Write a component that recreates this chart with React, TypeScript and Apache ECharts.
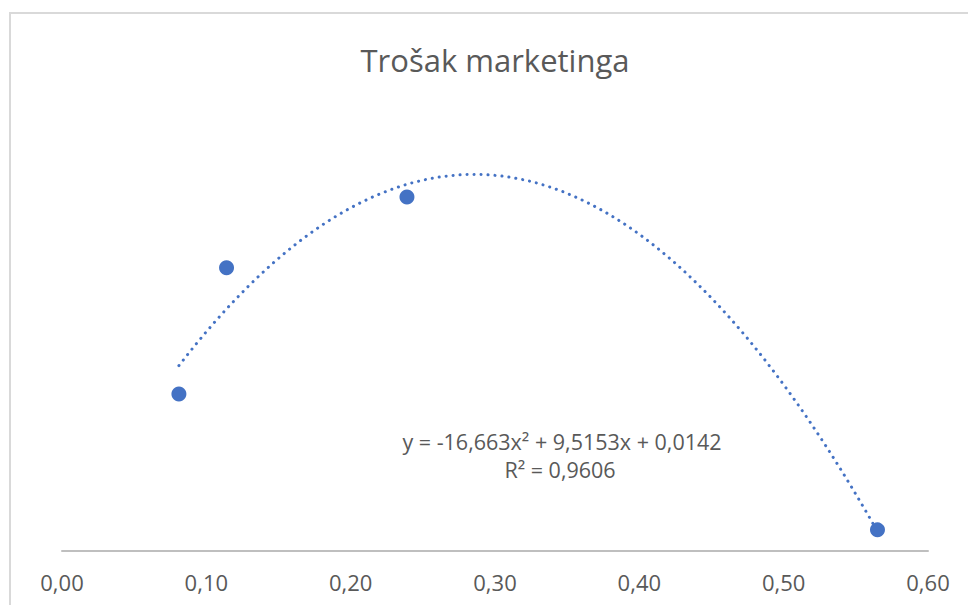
import React, { useEffect, useRef } from "react";
import * as echarts from "echarts";

// Data points
const xValues = [0.081, 0.114, 0.239, 0.565];
const yValues = [0.572, 1.032, 1.29, 0.077];

// Polynomial trendline (order 2) as printed on the chart: y = a x^2 + b x + c
const TREND_A = -16.663;
const TREND_B = 9.5153;
const TREND_C = 0.0142;
const TREND_STEPS = 80;

const xTicks = [0, 0.1, 0.2, 0.3, 0.4, 0.5, 0.6];

const TITLE = "Trošak marketinga";
const EQUATION = "y = -16,663x² + 9,5153x + 0,0142";
const R_SQUARED = "R² = 0,9606";

export default function App() {
  const ref = useRef<HTMLDivElement>(null);

  useEffect(() => {
    document.body.style.margin = "0";
    if (!ref.current) return;
    const chart = echarts.init(ref.current, undefined, { renderer: "svg" });

    const x0 = Math.min(...xValues);
    const x1 = Math.max(...xValues);
    const trend: number[][] = [];
    for (let i = 0; i <= TREND_STEPS; i++) {
      const x = x0 + ((x1 - x0) * i) / TREND_STEPS;
      trend.push([x, TREND_A * x * x + TREND_B * x + TREND_C]);
    }
    const points = xValues.map((x, i) => [x, yValues[i]]);

    const textColor = "#595959";
    const font = "'Open Sans', sans-serif";

    chart.setOption({
      animation: false,
      backgroundColor: "#ffffff",
      grid: { left: 62, right: 40, top: 112, bottom: 54 },
      xAxis: {
        type: "value",
        min: xTicks[0],
        max: xTicks[xTicks.length - 1],
        interval: 0.1,
        axisLine: { show: true, lineStyle: { color: "#bfbfbf", width: 2 } },
        axisTick: { show: false },
        splitLine: { show: false },
        axisLabel: {
          color: textColor,
          fontSize: 22,
          fontFamily: font,
          margin: 20,
          formatter: (v: number) => v.toFixed(2).replace(".", ","),
        },
      },
      yAxis: {
        type: "value",
        min: 0,
        max: 1.6,
        show: false,
        splitLine: { show: false },
      },
      graphic: [
        {
          type: "rect",
          shape: { x: 10, y: 13, width: 1200, height: 900 },
          style: { fill: "none", stroke: "#d9d9d9", lineWidth: 2 },
          silent: true,
        },
        {
          type: "text",
          x: 495,
          y: 60,
          style: {
            text: TITLE,
            fill: textColor,
            fontSize: 31,
            fontFamily: font,
            textAlign: "center",
            textVerticalAlign: "middle",
          },
        },
        {
          type: "text",
          x: 562,
          y: 441,
          style: {
            text: EQUATION,
            fill: textColor,
            fontSize: 21.5,
            fontFamily: font,
            textAlign: "center",
            textVerticalAlign: "middle",
          },
        },
        {
          type: "text",
          x: 560,
          y: 469,
          style: {
            text: R_SQUARED,
            fill: textColor,
            fontSize: 21.5,
            fontFamily: font,
            textAlign: "center",
            textVerticalAlign: "middle",
          },
        },
      ],
      series: [
        {
          type: "line",
          data: trend,
          showSymbol: false,
          smooth: false,
          z: 1,
          lineStyle: {
            color: "#4472c4",
            width: 3,
            type: [0.1, 6.9],
            cap: "round",
            opacity: 1,
          },
        },
        {
          type: "scatter",
          data: points,
          symbol: "circle",
          symbolSize: 15,
          z: 2,
          itemStyle: { color: "#4472c4", opacity: 1 },
        },
      ],
    });

    return () => chart.dispose();
  }, []);

  return <div ref={ref} style={{ width: 968, height: 605 }} />;
}
